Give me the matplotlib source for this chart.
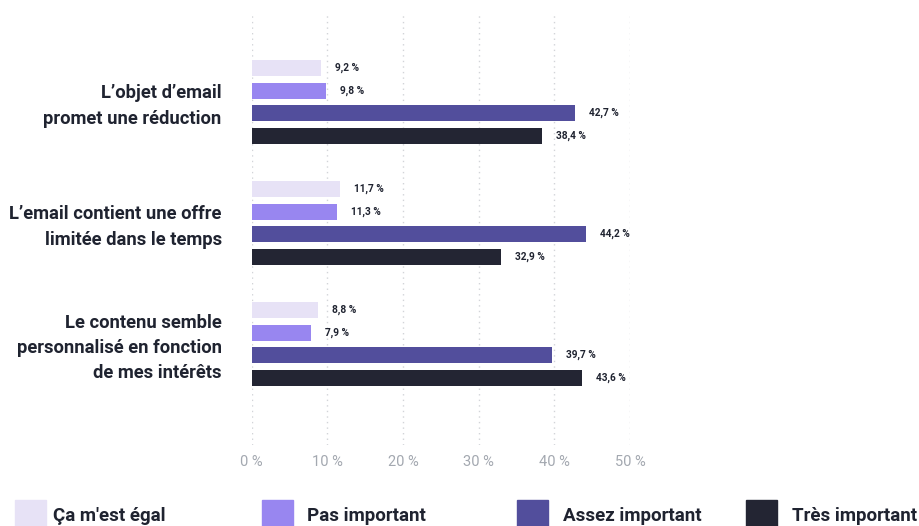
import numpy as np
import matplotlib.pyplot as plt
from matplotlib.patches import Rectangle

plt.rcParams['font.family'] = ['Roboto', 'DejaVu Sans']

categories = [
    "L\u2019objet d\u2019email\npromet une réduction",
    "L\u2019email contient une offre\nlimitée dans le temps",
    "Le contenu semble\npersonnalisé en fonction\nde mes intérêts",
]
series_names = ["Ça m'est égal", "Pas important", "Assez important", "Très important"]
egal = [9.2, 11.7, 8.8]
pas_important = [9.8, 11.3, 7.9]
assez_important = [42.7, 44.2, 39.7]
tres_important = [38.4, 32.9, 43.6]
x_ticks = [0, 10, 20, 30, 40, 50]

colors = ["#e7e2f6", "#9886f0", "#524e9c", "#232533"]
text_color = "#1f2330"

W, H = 920, 526
fig = plt.figure(figsize=(W / 100, H / 100), dpi=100)
ax = fig.add_axes([251.7 / W, 1 - 445 / H, (630 - 251.7) / W, 430 / H])

series = [egal, pas_important, assez_important, tres_important]
group_pos = np.arange(len(categories))
pitch = 0.187
bar_h = 0.132
offsets = (np.arange(4) - 1.5) * pitch

for vals, off, col in zip(series, offsets, colors):
    y = group_pos + off
    ax.barh(y, vals, height=bar_h, color=col, zorder=2)
    for yi, v in zip(y, vals):
        ax.annotate(f"{v:.1f} %".replace(".", ","), (v, yi),
                    xytext=(14, 0), textcoords="offset pixels",
                    ha="left", va="center", fontsize=7.3,
                    fontweight="bold", color=text_color, clip_on=False)

ax.set_xlim(0, 50)
ax.set_ylim(2 + 0.835, -0.719)
ax.set_xticks(x_ticks)
ax.set_xticklabels([f"{t} %" for t in x_ticks], fontsize=10.5, color="#a3a8b0")
ax.tick_params(axis="x", length=0, pad=7)
ax.set_yticks([])
for s in ax.spines.values():
    s.set_visible(False)
ax.grid(axis="x", linestyle=(0, (1, 3)), color="#d2d4d8", linewidth=1, zorder=0)

# category labels, right aligned left of the bars
for gp, cat in zip(group_pos, categories):
    ax.annotate(cat, (0, gp), xytext=(-30, -4), textcoords="offset pixels",
                ha="right", va="center", fontsize=13.2, fontweight="bold",
                color=text_color, linespacing=1.52, annotation_clip=False)

# legend along the bottom edge
sq_x = [15, 262, 517, 746]
txt_x = [53, 307, 563, 792]
for name, col, sx, tx in zip(series_names, colors, sq_x, txt_x):
    fig.patches.append(Rectangle((sx / W, 0), 31 / W, 26 / H, color=col,
                                 transform=fig.transFigure))
    fig.text(tx / W, 1 - 516 / H, name, ha="left", va="center",
             fontsize=13.5, fontweight="bold", color=text_color)

fig.savefig("out.png", dpi=100)
